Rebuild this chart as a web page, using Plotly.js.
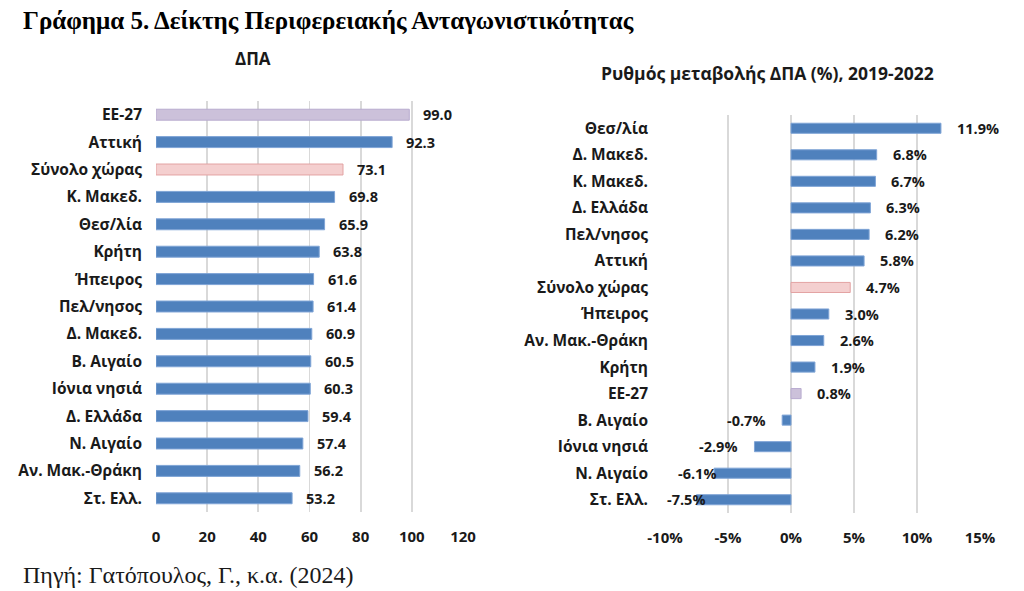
<!DOCTYPE html>
<html>
<head>
<meta charset="utf-8">
<script src="https://cdn.plot.ly/plotly-3.0.1.min.js"></script>
<style>
  html, body { margin: 0; padding: 0; background: #fff; }
  #chart { width: 1024px; height: 591px; }
</style>
</head>
<body>
<div id="chart"></div>
<script>
// Δείκτης Περιφερειακής Ανταγωνιστικότητας (ΔΠΑ)
const dpaRegions = ["EE-27", "Αττική", "Σύνολο χώρας", "Κ. Μακεδ.", "Θεσ/λία", "Κρήτη", "Ήπειρος",
  "Πελ/νησος", "Δ. Μακεδ.", "Β. Αιγαίο", "Ιόνια νησιά", "Δ. Ελλάδα", "Ν. Αιγαίο", "Αν. Μακ.-Θράκη", "Στ. Ελλ."];
const dpaValues = [99.0, 92.3, 73.1, 69.8, 65.9, 63.8, 61.6, 61.4, 60.9, 60.5, 60.3, 59.4, 57.4, 56.2, 53.2];
const dpaTicks = [0, 20, 40, 60, 80, 100, 120];

// Ρυθμός μεταβολής ΔΠΑ (%), 2019-2022
const changeRegions = ["Θεσ/λία", "Δ. Μακεδ.", "Κ. Μακεδ.", "Δ. Ελλάδα", "Πελ/νησος", "Αττική", "Σύνολο χώρας",
  "Ήπειρος", "Αν. Μακ.-Θράκη", "Κρήτη", "EE-27", "Β. Αιγαίο", "Ιόνια νησιά", "Ν. Αιγαίο", "Στ. Ελλ."];
const changeValues = [11.9, 6.8, 6.7, 6.3, 6.2, 5.8, 4.7, 3.0, 2.6, 1.9, 0.8, -0.7, -2.9, -6.1, -7.5];
const changeTicks = [-10, -5, 0, 5, 10, 15];

const BLUE = "#4f81bd", BLUE_EDGE = "#7fa4d6";
const EU = "#ccc1da", EU_EDGE = "#b8abcf";
const GR = "#f4cfcf", GR_EDGE = "#e3a3a3";
const fill = n => n === "EE-27" ? EU : (n === "Σύνολο χώρας" ? GR : BLUE);
const edge = n => n === "EE-27" ? EU_EDGE : (n === "Σύνολο χώρας" ? GR_EDGE : BLUE_EDGE);

const W = 1024, H = 591;
const px = x => x / W;
const py = y => 1 - y / H;

const SANS = "Open Sans, DejaVu Sans, sans-serif";
const SERIF = "Liberation Serif, Times New Roman, serif";
const labelFont = { family: SANS, size: 14.5, color: "#1a1a1a", weight: 700 };
const catFont = { family: SANS, size: 15.5, color: "#1a1a1a", weight: 700 };
const tickFont = { family: SANS, size: 15, color: "#1a1a1a", weight: 700 };

const traces = [
  {
    type: "bar", orientation: "h",
    x: dpaValues, y: dpaRegions,
    xaxis: "x", yaxis: "y",
    width: 0.4,
    marker: { color: dpaRegions.map(fill), line: { color: dpaRegions.map(edge), width: 1 } },
    hoverinfo: "x+y"
  },
  {
    type: "bar", orientation: "h",
    x: changeValues, y: changeRegions,
    xaxis: "x2", yaxis: "y2",
    width: 0.38,
    marker: { color: changeRegions.map(fill), line: { color: changeRegions.map(edge), width: 1 } },
    hoverinfo: "x+y"
  }
];

const annotations = [];

// value labels, left panel
dpaValues.forEach((v, i) => {
  annotations.push({
    xref: "x", yref: "y", x: v, y: dpaRegions[i],
    text: v.toFixed(1), showarrow: false,
    xanchor: "left", xshift: 12, font: labelFont
  });
});

// value labels, right panel; negative labels sit left of the bar end,
// and are pulled in over the bar when they would run past the axis start
const xMin2 = -10;
const unitsPerPx2 = 25 / 315;
changeValues.forEach((v, i) => {
  const txt = v.toFixed(1) + "%";
  const a = { xref: "x2", yref: "y2", y: changeRegions[i], text: txt, showarrow: false, font: labelFont };
  if (v >= 0) {
    Object.assign(a, { x: v, xanchor: "left", xshift: 14 });
  } else {
    const w = txt.length * 8.6 * unitsPerPx2;
    const right = v - 15 * unitsPerPx2;
    if (right - w < xMin2) {
      Object.assign(a, { x: Math.max(xMin2, v - 3), xanchor: "left" });
    } else {
      Object.assign(a, { x: v, xanchor: "right", xshift: -15 });
    }
  }
  annotations.push(a);
});

// titles and source
annotations.push(
  { xref: "paper", yref: "paper", x: px(21), y: py(21), xanchor: "left", yanchor: "middle",
    text: "<b>Γράφημα 5. Δείκτης Περιφερειακής Ανταγωνιστικότητας</b>", showarrow: false,
    font: { family: SERIF, size: 25, color: "#000" } },
  { xref: "paper", yref: "paper", x: px(253), y: py(58), xanchor: "center", yanchor: "middle",
    text: "<b>ΔΠΑ</b>", showarrow: false,
    font: { family: SANS, size: 17, color: "#1a1a1a" } },
  { xref: "paper", yref: "paper", x: px(767), y: py(73), xanchor: "center", yanchor: "middle",
    text: "<b>Ρυθμός μεταβολής ΔΠΑ (%), 2019-2022</b>", showarrow: false,
    font: { family: SANS, size: 17.5, color: "#1a1a1a" } },
  { xref: "paper", yref: "paper", x: px(21), y: py(575), xanchor: "left", yanchor: "middle",
    text: "Πηγή: Γατόπουλος, Γ., κ.α. (2024)", showarrow: false,
    font: { family: SERIF, size: 24, color: "#1a1a1a" } }
);

const grid = { showgrid: true, gridcolor: "#d9d9d9", gridwidth: 1.8, zeroline: false, showline: false, ticks: "" };

const layout = {
  width: W, height: H,
  margin: { l: 0, r: 0, t: 0, b: 0 },
  paper_bgcolor: "#fff", plot_bgcolor: "#fff",
  showlegend: false,
  xaxis: Object.assign({}, grid, {
    domain: [px(156), px(463)], range: [0, 120],
    tickmode: "array", tickvals: dpaTicks, ticktext: dpaTicks.map(String),
    tickfont: tickFont, anchor: "y", ticklabelstandoff: 14
  }),
  yaxis: {
    domain: [py(512), py(101)], type: "category",
    categoryorder: "array", categoryarray: dpaRegions, autorange: "reversed",
    showgrid: false, zeroline: false, showline: false, ticks: "",
    tickfont: catFont, anchor: "x", ticklabelstandoff: 13
  },
  xaxis2: Object.assign({}, grid, {
    domain: [px(665), px(980)], range: [-10, 15],
    tickmode: "array", tickvals: changeTicks, ticktext: changeTicks.map(t => t + "%"),
    tickfont: tickFont, anchor: "y2", ticklabelstandoff: 14
  }),
  yaxis2: {
    domain: [py(513), py(115)], type: "category",
    categoryorder: "array", categoryarray: changeRegions, autorange: "reversed",
    showgrid: false, zeroline: false, showline: false, ticks: "",
    tickfont: catFont, anchor: "x2", ticklabelstandoff: 16
  },
  annotations: annotations
};

Plotly.newPlot("chart", traces, layout, { staticPlot: true, displayModeBar: false });
</script>
</body>
</html>
